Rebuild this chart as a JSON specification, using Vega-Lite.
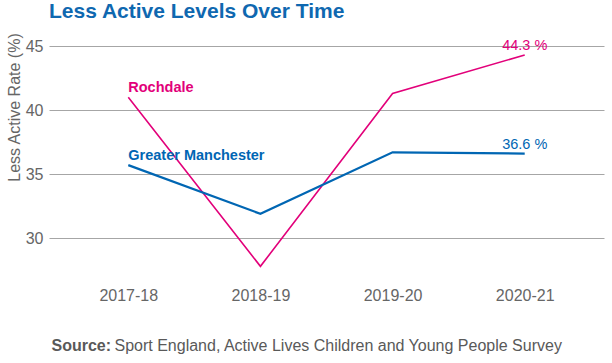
{
  "$schema": "https://vega.github.io/schema/vega-lite/v6.json",
  "width": 555,
  "height": 237,
  "autosize": "none",
  "padding": {"left": 49, "top": 46, "right": 8, "bottom": 80},
  "background": "white",
  "title": {
    "text": "Less Active Levels Over Time",
    "anchor": "start",
    "frame": "group",
    "fontSize": 21,
    "fontWeight": "bold",
    "color": "#0F68B0",
    "font": "Liberation Sans",
    "offset": 14,
    "dy": 21,
    "baseline": "alphabetic"
  },
  "config": {
    "view": {"stroke": null},
    "font": "Liberation Sans",
    "axis": {"labelFont": "Liberation Sans", "titleFont": "Liberation Sans"}
  },
  "data": {
    "values": [
      {"year": "2017-18", "area": "Rochdale", "value": 41.0},
      {"year": "2018-19", "area": "Rochdale", "value": 27.8},
      {"year": "2019-20", "area": "Rochdale", "value": 41.3},
      {"year": "2020-21", "area": "Rochdale", "value": 44.3},
      {"year": "2017-18", "area": "Greater Manchester", "value": 35.7},
      {"year": "2018-19", "area": "Greater Manchester", "value": 31.9},
      {"year": "2019-20", "area": "Greater Manchester", "value": 36.7},
      {"year": "2020-21", "area": "Greater Manchester", "value": 36.6}
    ]
  },
  "layer": [
    {
      "mark": {"type": "line"},
      "encoding": {
        "x": {
          "field": "year",
          "type": "ordinal",
          "scale": {"type": "point", "padding": 0.6},
          "axis": {
            "orient": "bottom",
            "labelAngle": 0,
            "labelFontSize": 16,
            "labelColor": "#666666",
            "labelPadding": 4,
            "ticks": false,
            "domain": false,
            "grid": false,
            "title": "Source:",
            "titleFontSize": 16,
            "titleFontWeight": "bold",
            "titleColor": "#595959",
            "titleAnchor": "start",
            "titleAlign": "left",
            "titleBaseline": "alphabetic",
            "titleX": 2,
            "titleY": 67
          }
        },
        "y": {
          "field": "value",
          "type": "quantitative",
          "scale": {"domain": [26.5, 45], "nice": false, "zero": false},
          "axis": {
            "values": [30, 35, 40, 45],
            "labelFontSize": 16,
            "labelColor": "#666666",
            "labelPadding": 6,
            "ticks": false,
            "domain": false,
            "grid": true,
            "gridColor": "#A6A6A6",
            "gridWidth": 1,
            "title": "Less Active Rate (%)",
            "titleFontSize": 16,
            "titleFontWeight": "normal",
            "titleColor": "#666666",
            "titleAngle": -90,
            "titleAlign": "center",
            "titleBaseline": "middle",
            "titleX": -35,
            "titleY": 61
          }
        },
        "color": {
          "field": "area",
          "type": "nominal",
          "scale": {"domain": ["Rochdale", "Greater Manchester"], "range": ["#E2007A", "#0066B3"]},
          "legend": null
        },
        "strokeWidth": {
          "field": "area",
          "type": "nominal",
          "scale": {"domain": ["Rochdale", "Greater Manchester"], "range": [1.6, 2.2]},
          "legend": null
        }
      }
    },
    {
      "transform": [{"filter": "datum.year == '2017-18'"}],
      "mark": {"type": "text", "align": "left", "baseline": "alphabetic", "dy": -5, "fontSize": 14.5, "fontWeight": "bold"},
      "encoding": {
        "x": {
          "field": "year",
          "type": "ordinal",
          "axis": {
            "orient": "bottom",
            "labels": false,
            "ticks": false,
            "domain": false,
            "grid": false,
            "offset": 0,
            "title": "Sport England, Active Lives Children and Young People Survey",
            "titleFontSize": 16,
            "titleFontWeight": "normal",
            "titleColor": "#595959",
            "titleAnchor": "start",
            "titleAlign": "left",
            "titleBaseline": "alphabetic",
            "titleX": 65,
            "titleY": 67
          }
        },
        "y": {"field": "value", "type": "quantitative"},
        "text": {"field": "area"},
        "color": {"field": "area", "type": "nominal", "legend": null}
      }
    },
    {
      "transform": [
        {"filter": "datum.year == '2020-21'"},
        {"calculate": "format(datum.value, '.1f') + ' %'", "as": "label"}
      ],
      "mark": {"type": "text", "align": "center", "baseline": "alphabetic", "dy": -5, "fontSize": 14.5},
      "encoding": {
        "x": {"field": "year", "type": "ordinal", "axis": null},
        "y": {"field": "value", "type": "quantitative"},
        "text": {"field": "label"},
        "color": {"field": "area", "type": "nominal", "legend": null}
      }
    }
  ],
  "resolve": {"axis": {"x": "independent"}}
}
